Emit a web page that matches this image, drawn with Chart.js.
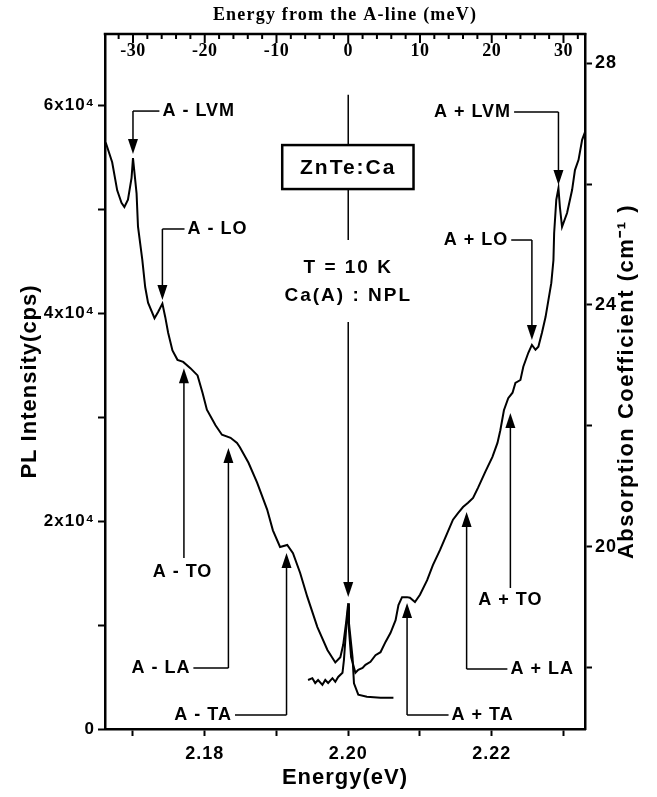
<!DOCTYPE html>
<html lang="en">
<head>
<meta charset="UTF-8">
<title>ZnTe:Ca PL and absorption</title>
<script src="https://cdn.jsdelivr.net/npm/chart.js"></script>
<style>
  body { margin: 0; background: #fff; }
  canvas { display: block; }
</style>
</head>
<body>
<canvas id="spectrum" width="657" height="797"></canvas>
<script>
// PL spectrum, left axis (cps)
const plEnergy = [2.1662, 2.1671, 2.1678, 2.1684, 2.1688, 2.1693, 2.1698, 2.1700, 2.1705, 2.1707,
  2.1713, 2.1717, 2.1721, 2.1730, 2.1735, 2.1741, 2.1745, 2.1749, 2.1755, 2.1762,
  2.1770, 2.1780, 2.1790, 2.1797, 2.1803, 2.1815, 2.1824, 2.1836, 2.1845, 2.1849,
  2.1861, 2.1873, 2.1887, 2.1895, 2.1905, 2.1915, 2.1923, 2.1933, 2.1943, 2.1957,
  2.1971, 2.1982, 2.1989, 2.1993, 2.1997, 2.2000, 2.2001, 2.2006, 2.2008, 2.2014,
  2.2026, 2.2045, 2.2063];
const plIntensity = [56400, 54500, 51800, 50600, 50200, 50900, 53000, 54900, 51500, 48300,
  45100, 42500, 41000, 39500, 40100, 40900, 39600, 38100, 36400, 35500,
  35300, 34700, 34000, 32300, 30700, 29200, 28300, 28000, 27500, 27100,
  25600, 23700, 21100, 19100, 17500, 17700, 16900, 15000, 12700, 9800,
  7600, 6400, 6900, 8100, 10200, 12100, 10200, 6900, 4400, 3300,
  3100, 3000, 3000];

// absorption, right axis (cm^-1)
const absEnergy = [2.1944, 2.1950, 2.1954, 2.1958, 2.1964, 2.1968, 2.1972, 2.1978, 2.1982, 2.1986,
  2.1992, 2.1994, 2.1997, 2.2000, 2.2001, 2.2004, 2.2010, 2.2014, 2.2020, 2.2024,
  2.2031, 2.2038, 2.2045, 2.2052, 2.2059, 2.2066, 2.2070, 2.2075, 2.2082, 2.2086,
  2.2093, 2.2100, 2.2110, 2.2118, 2.2128, 2.2138, 2.2146, 2.2153, 2.2160, 2.2167,
  2.2174, 2.2181, 2.2191, 2.2201, 2.2208, 2.2212, 2.2217, 2.2223, 2.2229, 2.2233,
  2.2240, 2.2244, 2.2251, 2.2256, 2.2261, 2.2265, 2.2270, 2.2275, 2.2279, 2.2283,
  2.2286, 2.2287, 2.2290, 2.2293, 2.2295, 2.2298, 2.2305, 2.2312, 2.2316, 2.2321,
  2.2326, 2.2330];
const absCoeff = [17.80, 17.83, 17.75, 17.80, 17.72, 17.80, 17.75, 17.83, 17.77, 17.85,
  17.92, 18.13, 18.63, 19.01, 18.63, 18.18, 17.92, 17.97, 18.00, 18.05,
  18.10, 18.21, 18.26, 18.43, 18.58, 18.79, 19.04, 19.17, 19.17, 19.16,
  19.09, 19.21, 19.45, 19.70, 19.95, 20.23, 20.45, 20.56, 20.66, 20.73,
  20.81, 20.98, 21.24, 21.49, 21.72, 21.93, 22.26, 22.46, 22.55, 22.71,
  22.76, 22.98, 23.21, 23.34, 23.26, 23.31, 23.54, 23.80, 24.08, 24.36,
  24.74, 25.19, 25.74, 25.93, 25.62, 25.29, 25.52, 25.90, 26.23, 26.40,
  26.73, 26.86];

// tick positions and the ones that carry a label
const energyTicks = [2.17, 2.18, 2.19, 2.20, 2.21, 2.22, 2.23];
const energyLabels = [2.18, 2.20, 2.22];
const plTicks = [0, 10000, 20000, 30000, 40000, 50000, 60000];
const plLabels = [0, 20000, 40000, 60000];
const absTicks = [18, 20, 22, 24, 26, 28];
const absLabels = [20, 24, 28];
const meVLabels = [-30, -20, -10, 0, 10, 20, 30];

const A_LINE = 2.2000; // eV, zero of the top axis

const SANS = '"Liberation Sans", Arial, sans-serif';
const SERIF = '"Liberation Serif", "Times New Roman", serif';

// phonon replica markers: arrow at x (eV), tip/bend in PL units
const replicas = [
  { text: 'A - LVM', x: 2.1700, tip: 55300, bend: 59420, lx: 2.1741, align: 'left' },
  { text: 'A - LO',  x: 2.1741, tip: 41250, bend: 48080, lx: 2.1776, align: 'left' },
  { text: 'A - TO',  x: 2.1771, tip: 34700, bend: 16440, lx: 2.1769, ly: 15100, align: 'center' },
  { text: 'A - LA',  x: 2.1833, tip: 27020, bend: 5860,  lx: 2.1780, align: 'right' },
  { text: 'A - TA',  x: 2.1914, tip: 16920, bend: 1350,  lx: 2.1838, align: 'right' },
  { text: 'A + TA',  x: 2.2082, tip: 12120, bend: 1350,  lx: 2.2144, align: 'left' },
  { text: 'A + LA',  x: 2.2165, tip: 20870, bend: 5770,  lx: 2.2226, align: 'left' },
  { text: 'A + TO',  x: 2.2226, tip: 30390, bend: 13560, lx: 2.2226, ly: 12400, align: 'center' },
  { text: 'A + LO',  x: 2.2256, tip: 37400, bend: 47020, lx: 2.2223, align: 'right' },
  { text: 'A + LVM', x: 2.2293, tip: 52310, bend: 59330, lx: 2.2227, align: 'right' }
];

function text(ctx, s, px, py, align, font, spacing) {
  ctx.font = font;
  ctx.letterSpacing = spacing;
  ctx.textAlign = align;
  ctx.textBaseline = 'middle';
  ctx.fillText(s, px, py);
}

function arrowHead(ctx, px, py, down) {
  const d = down ? -1 : 1;
  ctx.beginPath();
  ctx.moveTo(px, py);
  ctx.lineTo(px - 5, py + d * 15);
  ctx.lineTo(px + 5, py + d * 15);
  ctx.closePath();
  ctx.fill();
}

function line(ctx, x1, y1, x2, y2) {
  ctx.beginPath();
  ctx.moveTo(x1, y1);
  ctx.lineTo(x2, y2);
  ctx.stroke();
}

const fixedTicks = list => s => { s.ticks = list.map(v => ({ value: v })); };

const decor = {
  id: 'decor',
  beforeDraw(chart) {
    chart.ctx.letterSpacing = '1px';
  },
  afterDraw(chart) {
    const { ctx, chartArea: a, scales: { x, y } } = chart;
    ctx.save();
    ctx.strokeStyle = '#000';
    ctx.fillStyle = '#000';

    // top frame with the meV axis, ticks pointing inward
    ctx.lineWidth = 2.5;
    line(ctx, a.left - 1.25, a.top, a.right + 1.25, a.top);
    ctx.lineWidth = 2;
    for (let m = -34; m <= 34; m += 2) {
      const px = x.getPixelForValue(A_LINE + m / 1000);
      if (px < a.left + 3 || px > a.right - 3) continue;
      line(ctx, px, a.top, px, a.top + (m % 10 === 0 ? 9 : 5));
    }
    meVLabels.forEach(m => {
      text(ctx, String(m), x.getPixelForValue(A_LINE + m / 1000), a.top + 17, 'center',
        'bold 18px ' + SERIF, '0.5px');
    });
    text(ctx, 'Energy from the A-line (meV)', (a.left + a.right) / 2, 15, 'center',
      'bold 18px ' + SERIF, '1.2px');

    // right axis title, reading upward
    ctx.save();
    ctx.translate(627, (a.top + a.bottom) / 2);
    ctx.rotate(-Math.PI / 2);
    text(ctx, 'Absorption Coefficient (cm\u207B\u00B9 )', 0, 0, 'center', 'bold 22px ' + SANS, '1.5px');
    ctx.restore();

    // replica arrows and labels
    const lblFont = 'bold 18px ' + SANS;
    ctx.lineWidth = 1.5;
    replicas.forEach(r => {
      const ax = x.getPixelForValue(r.x);
      const tip = y.getPixelForValue(r.tip);
      const bend = y.getPixelForValue(r.bend);
      const lx = x.getPixelForValue(r.lx);
      const down = tip > bend;
      const headBase = down ? tip - 14 : tip + 14;
      line(ctx, ax, bend, ax, headBase);
      arrowHead(ctx, ax, tip, down);
      if (r.align === 'center') {
        text(ctx, r.text, lx, y.getPixelForValue(r.ly), 'center', lblFont, '1px');
      } else {
        const edge = r.align === 'left' ? lx - 3 : lx + 3;
        line(ctx, edge, bend, ax, bend);
        text(ctx, r.text, lx, bend, r.align, lblFont, '1px');
      }
    });

    // A-line (no-phonon line) marker with sample box
    const cx = x.getPixelForValue(A_LINE);
    const boxTop = y.getPixelForValue(56150);
    const boxBot = y.getPixelForValue(51920);
    const boxL = x.getPixelForValue(2.1908);
    const boxR = x.getPixelForValue(2.2091);
    line(ctx, cx, y.getPixelForValue(61000), cx, boxTop);
    line(ctx, cx, boxBot, cx, y.getPixelForValue(47020));
    const npTip = y.getPixelForValue(12690);
    line(ctx, cx, y.getPixelForValue(39130), cx, npTip - 14);
    arrowHead(ctx, cx, npTip, true);
    ctx.lineWidth = 2.5;
    ctx.strokeRect(boxL, boxTop, boxR - boxL, boxBot - boxTop);
    text(ctx, 'ZnTe:Ca', cx, (boxTop + boxBot) / 2 + 1, 'center', 'bold 21px ' + SANS, '2px');
    text(ctx, 'T = 10 K', cx, y.getPixelForValue(44330), 'center', 'bold 19px ' + SANS, '2px');
    text(ctx, 'Ca(A) : NPL', cx, y.getPixelForValue(41630), 'center', 'bold 19px ' + SANS, '2px');

    ctx.restore();
  }
};

const tickGrid = {
  display: true,
  drawOnChartArea: false,
  drawTicks: true,
  tickLength: 7,
  tickWidth: 2,
  tickColor: '#000'
};
const axisBorder = { display: true, width: 2.5, color: '#000' };

Chart.defaults.font.family = SANS;
Chart.defaults.color = '#000';

new Chart(document.getElementById('spectrum'), {
  type: 'line',
  data: {
    datasets: [
      {
        label: 'PL',
        data: plEnergy.map((e, i) => ({ x: e, y: plIntensity[i] })),
        yAxisID: 'y',
        borderColor: '#000',
        borderWidth: 2,
        pointRadius: 0,
        tension: 0
      },
      {
        label: 'Absorption',
        data: absEnergy.map((e, i) => ({ x: e, y: absCoeff[i] })),
        yAxisID: 'y2',
        borderColor: '#000',
        borderWidth: 2,
        pointRadius: 0,
        tension: 0
      }
    ]
  },
  options: {
    responsive: false,
    animation: false,
    devicePixelRatio: 1,
    layout: { padding: { top: 34, left: 0, right: 0, bottom: 0 } },
    plugins: { legend: { display: false }, tooltip: { enabled: false } },
    scales: {
      x: {
        type: 'linear',
        position: 'bottom',
        min: 2.1661,
        max: 2.2330,
        grid: tickGrid,
        border: axisBorder,
        afterBuildTicks: fixedTicks(energyTicks),
        ticks: {
          autoSkip: false,
          maxRotation: 0,
          padding: 7,
          font: { size: 18, weight: 'bold' },
          callback: v => energyLabels.some(e => Math.abs(e - v) < 1e-6) ? v.toFixed(2) : ''
        },
        title: {
          display: true,
          text: 'Energy(eV)',
          font: { size: 22, weight: 'bold' },
          padding: { top: 0, bottom: 6 }
        },
        afterFit: s => { s.height = 68; }
      },
      y: {
        position: 'left',
        min: 0,
        max: 66830,
        grid: tickGrid,
        border: axisBorder,
        afterBuildTicks: fixedTicks(plTicks),
        ticks: {
          autoSkip: false,
          padding: 3,
          font: { size: 17, weight: 'bold' },
          callback: v => plLabels.includes(v) ? (v === 0 ? '0' : (v / 10000) + 'x10\u2074') : ''
        },
        title: {
          display: true,
          text: 'PL Intensity(cps)',
          font: { size: 22, weight: 'bold' },
          padding: { top: 17, bottom: 0 }
        },
        afterFit: s => { s.width = 105; }
      },
      y2: {
        position: 'right',
        min: 16.99,
        max: 28.48,
        grid: tickGrid,
        border: axisBorder,
        afterBuildTicks: fixedTicks(absTicks),
        ticks: {
          autoSkip: false,
          padding: 3,
          font: { size: 18, weight: 'bold' },
          callback: v => absLabels.includes(v) ? String(v) : ''
        },
        afterFit: s => { s.width = 72; }
      }
    }
  },
  plugins: [decor]
});
</script>
</body>
</html>
